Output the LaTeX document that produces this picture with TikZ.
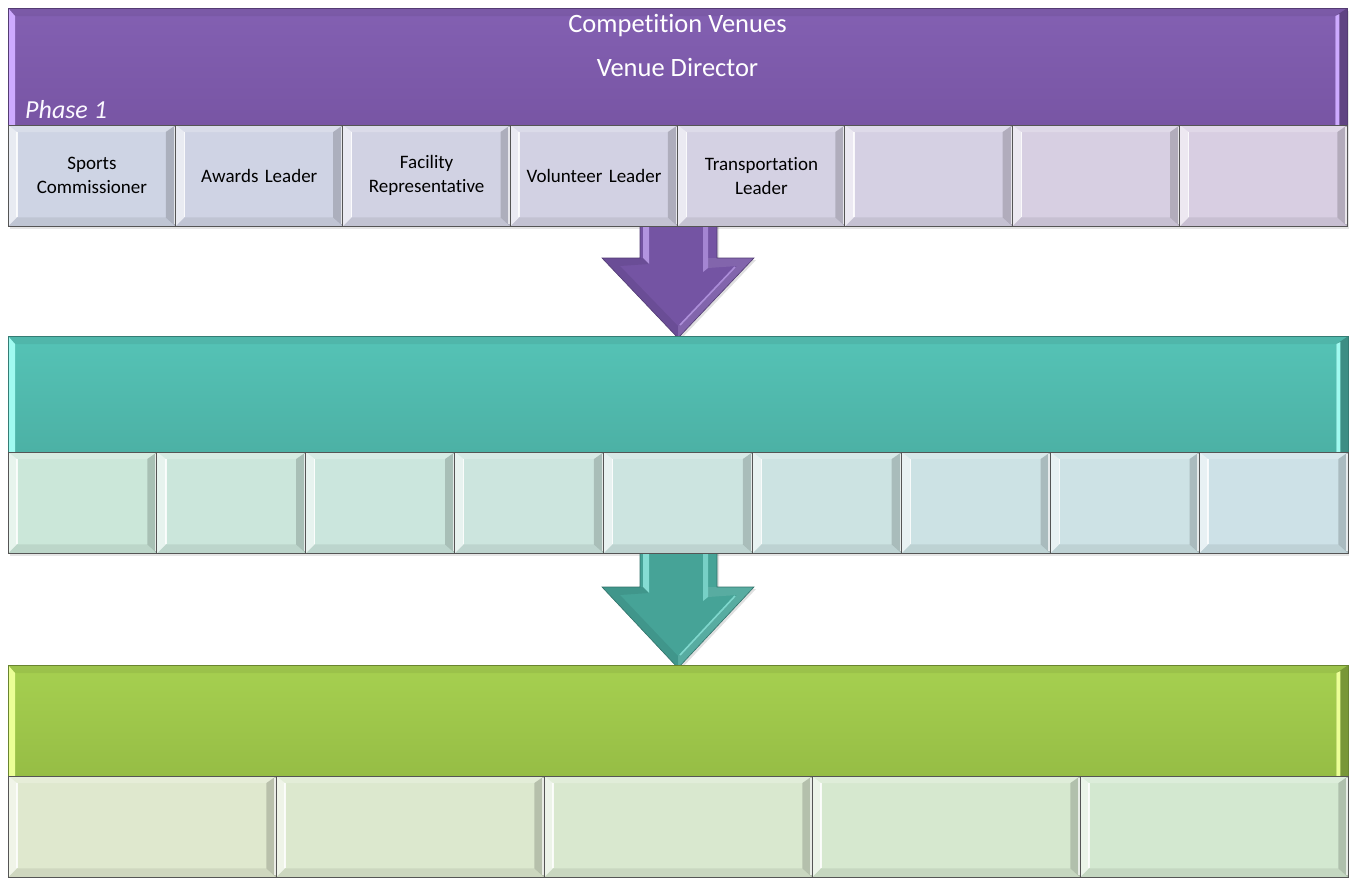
\documentclass[tikz,border=0pt]{standalone}
\usepackage{fontspec}
\setmainfont{Carlito}[Ligatures=NoCommon]
\usetikzlibrary{calc}

% band, cell and arrow colours
\definecolor{purpTop}{RGB}{131,96,178}
\definecolor{purpBot}{RGB}{120,85,164}
\definecolor{purpEdge}{RGB}{205,170,255}
\definecolor{purpCellL}{RGB}{206,212,228}
\definecolor{purpCellR}{RGB}{216,206,226}
\definecolor{purpArrow}{RGB}{116,84,163}
\definecolor{purpArrowHi}{RGB}{185,155,230}
\definecolor{tealTop}{RGB}{85,195,182}
\definecolor{tealBot}{RGB}{76,177,165}
\definecolor{tealEdge}{RGB}{160,250,240}
\definecolor{tealCellL}{RGB}{203,231,217}
\definecolor{tealCellR}{RGB}{205,225,231}
\definecolor{tealArrow}{RGB}{70,163,151}
\definecolor{tealArrowHi}{RGB}{140,228,218}
\definecolor{greenTop}{RGB}{166,208,80}
\definecolor{greenBot}{RGB}{150,189,69}
\definecolor{greenEdge}{RGB}{235,255,150}
\definecolor{greenCellL}{RGB}{223,232,206}
\definecolor{greenCellR}{RGB}{211,232,208}
\definecolor{cellLine}{RGB}{85,85,85}

\tikzset{
  band/.style={inner sep=0pt, anchor=north west},
  cellnode/.style={inner sep=0pt, anchor=north west, align=center,
    font=\fontsize{19}{24}\selectfont, text=black},
  celledge/.style={draw=cellLine, line width=1pt},
  titletext/.style={inner sep=0pt, anchor=base, text=white,
    font=\fontsize{26.5}{30}\selectfont},
  phasetext/.style={inner sep=0pt, anchor=base west, text=white!92!purpEdge,
    font=\fontsize{26}{30}\selectfont\itshape},
}

% bevelled edges of a cell node
\newcommand{\bevelcell}[1]{%
  \fill[white,opacity=.55] (#1.north west) -- ($(#1.north west)+(9,7)$) -- ($(#1.south west)+(9,-9)$) -- (#1.south west) -- cycle;
  \fill[white,opacity=.22] (#1.north west) -- (#1.north east) -- ($(#1.north east)+(-10,7)$) -- ($(#1.north west)+(9,7)$) -- cycle;
  \fill[black,opacity=.17] (#1.north east) -- ($(#1.north east)+(-10,7)$) -- ($(#1.south east)+(-10,-9)$) -- (#1.south east) -- cycle;
  \fill[black,opacity=.07] (#1.south west) -- ($(#1.south west)+(9,-9)$) -- ($(#1.south east)+(-10,-9)$) -- (#1.south east) -- cycle;
  \draw[white,opacity=.85,line width=1.3pt] ($(#1.north west)+(9,7)$) -- ($(#1.south west)+(9,-9)$);
  \draw[white,opacity=.7,line width=1.3pt] ($(#1.north east)+(-1.5,2)$) -- ($(#1.south east)+(-1.5,-2)$);
  \draw[celledge] (#1.north west) rectangle (#1.south east);
}

% bevelled edges of a band node
\newcommand{\bevelband}[3]{% node, edge colour, base colour
  \fill[black,opacity=.06] (#1.north west) -- (#1.north east) -- ($(#1.north east)+(-12,8)$) -- ($(#1.north west)+(7,8)$) -- cycle;
  \fill[#2] (#1.north west) -- ($(#1.north west)+(7,8)$) -- ($(#1.south west)+(7,0)$) -- (#1.south west) -- cycle;
  \fill[#3!80!black] (#1.north east) -- ($(#1.north east)+(-12,8)$) -- ($(#1.south east)+(-12,0)$) -- (#1.south east) -- cycle;
  \fill[#2] ($(#1.north east)+(-12,8)$) -- ($(#1.north east)+(-8,6)$) -- ($(#1.south east)+(-8,0)$) -- ($(#1.south east)+(-12,0)$) -- cycle;
  \draw[#3!70!black,line width=.8pt] (#1.north west) rectangle (#1.south east);
}

% bevelled block arrow; shaft top at #2, head at #3, tip at #4
\newcommand{\blockarrow}[5]{% name, shaft top, head top, tip, colour
  \fill[black,opacity=.12] (642,#2) -- (719,#2) -- (719,#3+2) -- (756,#3+2) -- (680,#4+2) -- (604,#3+2) -- (642,#3+2) -- cycle;
  \fill[#5] (640,#2) -- (717,#2) -- (717,#3) -- (754,#3) -- (678,#4) -- (602,#3) -- (640,#3) -- cycle;
  % shaft highlights
  \fill[#5Hi,opacity=.9] (643,#2) -- (649,#2) -- (649,#3+6) -- (643,#3) -- cycle;
  \fill[#5Hi,opacity=.7] (703,#2) -- (708,#2) -- (708,#3+10) -- (703,#3+14) -- cycle;
  % head bevel: shaded left face, lit right face
  \fill[black,opacity=.08] (602,#3) -- (643,#3) -- (649,#3+6) -- (620,#3+8) -- (678,#4-12) -- (678,#4) -- cycle;
  \fill[white,opacity=.10] (754,#3) -- (708,#3) -- (708,#3+10) -- (737,#3+8) -- (678,#4-12) -- (678,#4) -- cycle;
  \draw[#5Hi,opacity=.8,line width=1.6pt] (735,#3+9) -- (680,#4-13);
  \draw[#5!70!black,line width=.6pt] (640,#2) -- (640,#3) -- (602,#3) -- (678,#4) -- (754,#3) -- (717,#3) -- (717,#2);
  \coordinate (#1) at (678,#4);
}

\begin{document}
\begin{tikzpicture}[x=1pt,y=-1pt]
\useasboundingbox[fill=white] (0,0) rectangle (1349,878);

% ---------------- first phase ----------------
\fill[black,opacity=.10] (10,11) rectangle (1350,229);
\node[band, top color=purpTop, bottom color=purpBot,
      minimum width=1339pt, minimum height=117pt] (pband) at (8,8) {};
\bevelband{pband}{purpEdge}{purpBot}
\node[titletext] (ptitle) at (677.5,32) {Competition Venues};
\node[titletext] (pdir) at (677.5,76) {Venue Director};
\node[phasetext] (phase) at (25,118) {Phase 1};

\foreach \i/\t in {1/{Sports\\Commissioner},2/{Awards Leader},3/{Facility\\Representative},
                   4/{Volunteer Leader},5/{Transportation\\Leader},6/{},7/{},8/{}}{
  \pgfmathsetmacro{\mix}{100-100*(\i-1)/7}
  \colorlet{cellfill}{purpCellL!\mix!purpCellR}
  \node[cellnode, fill=cellfill, minimum width=167.375pt, minimum height=101pt,
        text width=155pt] (p\i) at ({8+167.375*(\i-1)},125) {\t};
  \bevelcell{p\i}
}

\blockarrow{arrowA}{227}{258}{338}{purpArrow}

% ---------------- second phase ----------------
\fill[black,opacity=.10] (10,339) rectangle (1350,556);
\node[band, top color=tealTop, bottom color=tealBot,
      minimum width=1340pt, minimum height=116pt] (tband) at (8,336) {};
\bevelband{tband}{tealEdge}{tealBot}
\foreach \i in {1,...,9}{
  \pgfmathsetmacro{\mix}{100-100*(\i-1)/8}
  \colorlet{cellfill}{tealCellL!\mix!tealCellR}
  \node[cellnode, fill=cellfill, minimum width=148.889pt, minimum height=101pt]
        (t\i) at ({8+148.889*(\i-1)},452) {};
  \bevelcell{t\i}
}

\blockarrow{arrowB}{554}{587}{668}{tealArrow}

% ---------------- third phase ----------------
\fill[black,opacity=.10] (10,668) rectangle (1350,878);
\node[band, top color=greenTop, bottom color=greenBot,
      minimum width=1340pt, minimum height=111pt] (gband) at (8,665) {};
\bevelband{gband}{greenEdge}{greenBot}
\foreach \i in {1,...,5}{
  \pgfmathsetmacro{\mix}{100-100*(\i-1)/4}
  \colorlet{cellfill}{greenCellL!\mix!greenCellR}
  \node[cellnode, fill=cellfill, minimum width=268pt, minimum height=101pt]
        (g\i) at ({8+268*(\i-1)},776) {};
  \bevelcell{g\i}
}
\end{tikzpicture}
\end{document}
